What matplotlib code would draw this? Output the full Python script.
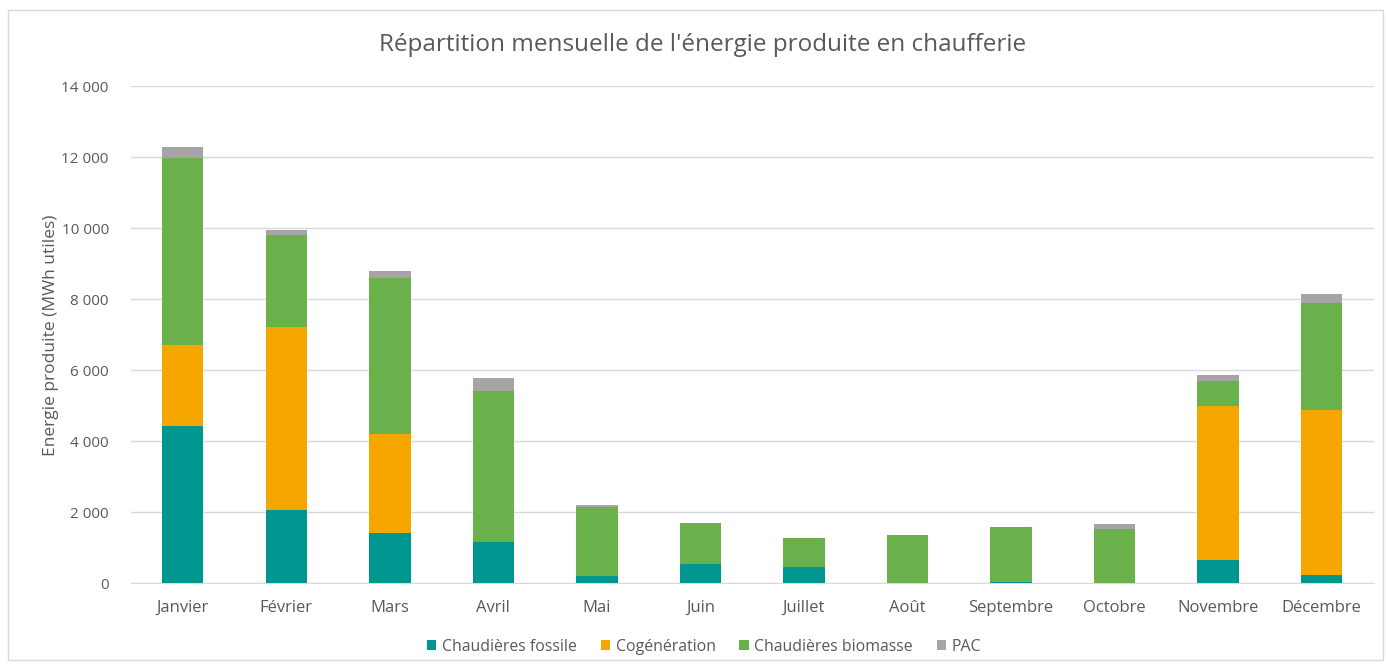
import matplotlib.pyplot as plt
from matplotlib.patches import Rectangle
from matplotlib.ticker import FuncFormatter
import numpy as np

# monthly energy produced in the boiler house (MWh utiles)
mois = ['Janvier', 'Février', 'Mars', 'Avril', 'Mai', 'Juin', 'Juillet',
        'Août', 'Septembre', 'Octobre', 'Novembre', 'Décembre']
fossile = [4420, 2080, 1420, 1160, 200, 540, 450, 10, 30, 0, 650, 230]
cogeneration = [2300, 5130, 2800, 0, 0, 0, 0, 0, 0, 0, 4350, 4660]
biomasse = [5270, 2610, 4380, 4270, 1950, 1160, 840, 1350, 1560, 1530, 710, 3020]
pac = [310, 140, 210, 360, 60, 0, 0, 0, 0, 140, 170, 230]

series = [
    ('Chaudières fossile', fossile, '#009690'),
    ('Cogénération', cogeneration, '#F5A700'),
    ('Chaudières biomasse', biomasse, '#6AB04B'),
    ('PAC', pac, '#A5A5A5'),
]

plt.rcParams['font.family'] = ['Open Sans', 'DejaVu Sans']
grey_txt = '#595959'

fig = plt.figure(figsize=(13.86, 6.69), dpi=100)
ax = fig.add_axes([0.0945, 0.128, 0.8965, 0.743])

x = np.arange(len(mois))
bottom = np.zeros(len(mois))
for name, vals, col in series:
    ax.bar(x, vals, width=0.4, bottom=bottom, color=col, label=name, zorder=3)
    bottom += np.array(vals)

ax.set_xlim(-0.5, len(mois) - 0.5)
ax.set_ylim(0, 14000)
ax.set_yticks(range(0, 14001, 2000))
ax.yaxis.set_major_formatter(FuncFormatter(lambda v, p: f'{int(v):,}'.replace(',', ' ')))
ax.set_xticks(x)
ax.set_xticklabels(mois)
ax.tick_params(axis='both', length=0, colors=grey_txt)
ax.tick_params(axis='x', pad=12, labelsize=12)
ax.tick_params(axis='y', pad=16, labelsize=11)
ax.grid(axis='y', color='#D9D9D9', linewidth=1, zorder=0)
for s in ['top', 'right', 'left']:
    ax.spines[s].set_visible(False)
ax.spines['bottom'].set_color('#D9D9D9')

ax.set_ylabel('Energie produite (MWh utiles)', color=grey_txt, fontsize=12.5, labelpad=2)
fig.text(0.507, 0.932, "Répartition mensuelle de l'énergie produite en chaufferie",
         ha='center', va='center', fontsize=17.5, color=grey_txt)

leg = fig.legend(loc='center', bbox_to_anchor=(0.508, 0.033), ncol=4, frameon=False,
                 fontsize=11.4, handlelength=0.6, handleheight=0.6, handletextpad=0.35,
                 columnspacing=1.5)
for t in leg.get_texts():
    t.set_color(grey_txt)

# outer chart border
fig.patches.append(Rectangle((0.006, 0.013), 0.992, 0.972, transform=fig.transFigure,
                             fill=False, edgecolor='#D9D9D9', linewidth=1))

fig.savefig('out.png', dpi=100)
